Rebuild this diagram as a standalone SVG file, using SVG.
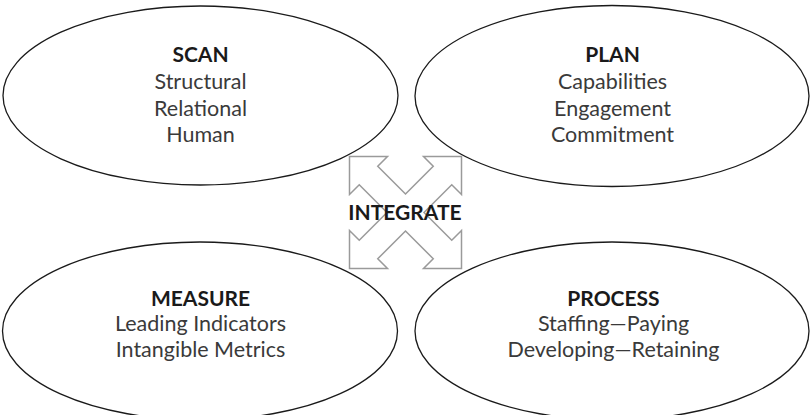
<svg xmlns="http://www.w3.org/2000/svg" width="812" height="415" viewBox="0 0 812 415">
  <style>
    .oval { fill: none; stroke: #1a1a1a; stroke-width: 1.3; }
    .arrow { fill: #ffffff; stroke: #9a9a9a; stroke-width: 1.5; stroke-linejoin: miter; }
    text { font-family: Lato, "Open Sans", sans-serif; text-anchor: middle; }
    .title { font-weight: bold; font-size: 21px; fill: #1a1a1a; }
    .item { font-size: 21.5px; fill: #3a3a3a; }
  </style>
  <rect width="812" height="415" fill="#ffffff"/>
  <g id="connectors">
    <polygon class="arrow" points="405.5,194 433.25,166.25 423.5,156.5 461.5,156.5 461.5,194.5 451.75,184.75 424,212.5 451.75,240.25 461.5,230.5 461.5,268.5 423.5,268.5 433.25,258.75 405.5,231 377.75,258.75 387.5,268.5 349.5,268.5 349.5,230.5 359.25,240.25 387,212.5 359.25,184.75 349.5,194.5 349.5,156.5 387.5,156.5 377.75,166.25"/>
  </g>
  <g id="scan">
    <ellipse class="oval" cx="200.5" cy="95.5" rx="197.5" ry="89.5"/>
    <text class="title" x="200.5" y="62">SCAN</text>
    <text class="item" x="200.5" y="89">Structural</text>
    <text class="item" x="200.5" y="116">Relational</text>
    <text class="item" x="200.5" y="142">Human</text>
  </g>
  <g id="plan">
    <ellipse class="oval" cx="612" cy="96" rx="197" ry="90.5"/>
    <text class="title" x="612.5" y="62">PLAN</text>
    <text class="item" x="612.5" y="89">Capabilities</text>
    <text class="item" x="612.5" y="116">Engagement</text>
    <text class="item" x="612.5" y="142">Commitment</text>
  </g>
  <g id="measure">
    <ellipse class="oval" cx="200" cy="331" rx="197.5" ry="89"/>
    <text class="title" x="200.5" y="306">MEASURE</text>
    <text class="item" x="200.5" y="331">Leading Indicators</text>
    <text class="item" x="200.5" y="357">Intangible Metrics</text>
  </g>
  <g id="process">
    <ellipse class="oval" cx="612" cy="331" rx="197" ry="89"/>
    <text class="title" x="613.5" y="306">PROCESS</text>
    <text class="item" x="613.5" y="331">Staffing—Paying</text>
    <text class="item" x="613.5" y="357">Developing—Retaining</text>
  </g>
  <g id="integrate">
    <text class="title" x="405" y="220" font-size="22">INTEGRATE</text>
  </g>
</svg>
